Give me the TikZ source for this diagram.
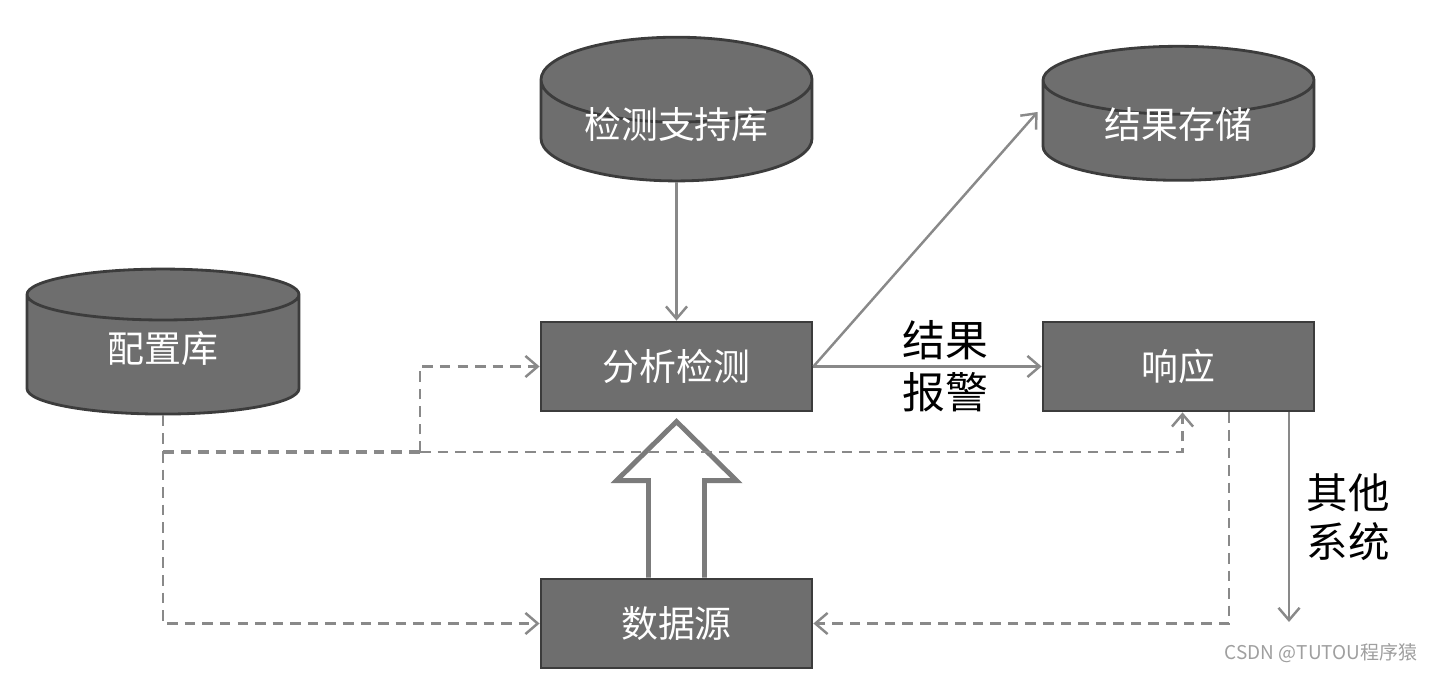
\documentclass[tikz,border=0pt]{standalone}
\usepackage{fontspec}
\setmainfont{Noto Sans CJK SC}
\usepackage{tikz}
\usetikzlibrary{shapes.geometric,arrows.meta}
\definecolor{boxgray}{HTML}{6E6E6E}
\definecolor{edgegray}{HTML}{3C3C3C}
\definecolor{linegray}{HTML}{898989}

\begin{document}
\begin{tikzpicture}[
    box/.style={draw=edgegray, line width=0.8pt, fill=boxgray, text=white,
      font=\fontsize{10.5}{12}\selectfont, minimum width=2.71cm,
      minimum height=0.89cm, inner sep=0pt},
    db/.style={box, shape=cylinder, shape border rotate=90, aspect=0.46,
      minimum height=1.34cm, text height=0.15cm, text depth=0cm},
    link/.style={draw=linegray, line width=0.7pt,
      -{Straight Barb[length=3.5pt,width=6pt]}},
    dashlink/.style={link, dash pattern=on 3pt off 2pt},
    lbl/.style={font=\fontsize{12.2}{14.8}\selectfont, align=left}
  ]
    \useasboundingbox (0,0) rectangle (14.33,6.73);

    \node[db] (sup) at (6.765,5.42) {检测支持库};
    \node[db] (store) at (11.785,5.42) {结果存储};
    \node[db, minimum width=2.72cm, minimum height=1.45cm] (conf) at (1.63,3.18) {配置库};
    \node[box] (ana) at (6.765,3.065) {分析检测};
    \node[box] (resp) at (11.785,3.065) {响应};
    \node[box] (src) at (6.765,0.495) {数据源};

    % big arrow from the data source
    \draw[linegray!90!black, line width=1.4pt]
      ([xshift=-0.28cm]src.north) -- ++(0,0.97) -- ++(-0.32,0) -- ++(0.6,0.59)
      -- ++(0.6,-0.59) -- ++(-0.32,0) -- ++(0,-0.97);

    \draw[link] (sup.south) -- (ana.north);
    \draw[link] (ana.east) -- ([xshift=-0.04cm,yshift=0.19cm]store.west);
    \draw[link] (ana.east) -- node[lbl, align=center, pos=0.58, text=black] (alarm) {结果\\报警} (resp.west);

    \coordinate (split) at (4.20,2.21);
    \coordinate (other) at (12.89,0.51);
    \draw[dashlink, -] (conf.south) -- (conf.south |- split);
    \draw[dashlink, line width=1.3pt, -] (conf.south |- split) -- (split);
    \draw[dashlink] (conf.south |- split) |- (src.west);
    \draw[dashlink] (split) |- (ana.west);
    \draw[dashlink] (split) -| ([xshift=0.04cm]resp.south);
    \draw[dashlink] ([xshift=0.505cm]resp.south) |- (src.east);

    \draw[link] (resp.south -| other) -- node[lbl, anchor=west, xshift=0.05cm, text=black, font=\fontsize{11.8}{14.2}\selectfont] (sys) {其他\\系统} (other);

    \node[font=\fontsize{5.4}{6}\selectfont, text=gray!75, anchor=east, inner sep=0pt] (mark) at (14.18,0.2) {CSDN @TUTOU程序猿};
  \end{tikzpicture}
\end{document}
